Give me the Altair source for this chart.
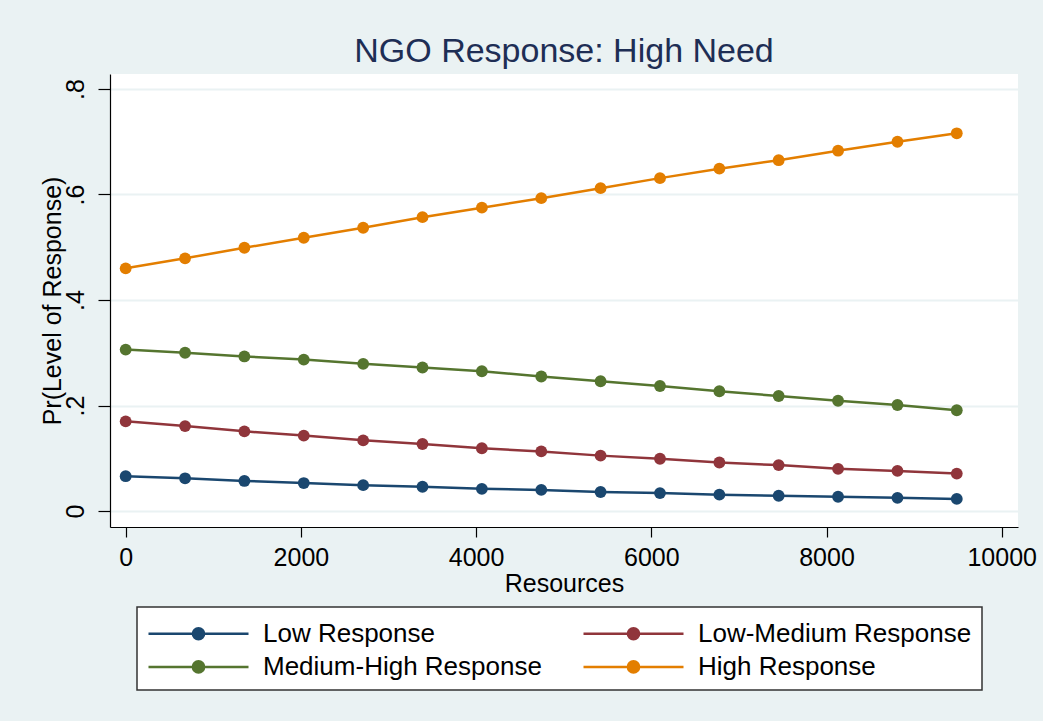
import altair as alt
import pandas as pd

FONT = "Liberation Sans"

# ---- data ----
resources = [0, 678, 1355, 2033, 2711, 3388, 4066, 4744, 5421, 6099, 6777, 7454, 8132, 8810, 9487]
low_response = [0.066, 0.062, 0.057, 0.053, 0.049, 0.046, 0.042, 0.040, 0.036, 0.034, 0.031, 0.029, 0.027, 0.025, 0.023]
low_medium_response = [0.170, 0.161, 0.151, 0.143, 0.134, 0.127, 0.119, 0.113, 0.105, 0.099, 0.092, 0.087, 0.080, 0.076, 0.071]
medium_high_response = [0.306, 0.300, 0.293, 0.287, 0.279, 0.272, 0.265, 0.255, 0.246, 0.237, 0.227, 0.218, 0.209, 0.201, 0.191]
high_response = [0.460, 0.479, 0.499, 0.518, 0.537, 0.557, 0.575, 0.593, 0.612, 0.631, 0.649, 0.665, 0.683, 0.700, 0.716]

series_names = ["Low Response", "Low-Medium Response", "Medium-High Response", "High Response"]
series_colors = ["#1A476F", "#90353B", "#55752F", "#E37E00"]
x_ticks = [0, 2000, 4000, 6000, 8000, 10000]
y_ticks = [0, 0.2, 0.4, 0.6, 0.8]

rows = []
for name, vals in zip(series_names, [low_response, low_medium_response, medium_high_response, high_response]):
    for r, v in zip(resources, vals):
        rows.append({"resources": r, "prob": v, "series": name})
df = pd.DataFrame(rows)

x = alt.X(
    "resources:Q",
    scale=alt.Scale(domain=[-179, 10186], nice=False, zero=False),
    axis=alt.Axis(
        values=x_ticks, title="Resources", grid=False, format="d",
        domainColor="black", domainWidth=1.2, tickColor="black", tickWidth=1.2, tickSize=10,
        labelFont=FONT, labelFontSize=25, labelColor="black", labelBaseline="alphabetic",
        labelPadding=28.5, labelOverlap=False,
        titleFont=FONT, titleFontSize=25, titleFontWeight="normal", titleColor="black",
        titleBaseline="alphabetic", titleY=64,
    ),
)
y = alt.Y(
    "prob:Q",
    scale=alt.Scale(domain=[-0.0303, 0.8284], nice=False, zero=False),
    axis=alt.Axis(
        values=y_ticks, title="Pr(Level of Response)",
        labelExpr="datum.value == 0 ? '0' : '.' + round(datum.value * 10)",
        grid=True, gridColor="#EAF2F3", gridWidth=2.2,
        domainColor="black", domainWidth=1.2, tickColor="black", tickWidth=1.2, tickSize=12,
        labelFont=FONT, labelFontSize=25, labelColor="black", labelAngle=270,
        labelAlign="center", labelBaseline="alphabetic", labelPadding=15, labelOverlap=False,
        titleFont=FONT, titleFontSize=25, titleFontWeight="normal", titleColor="black",
        titleAngle=270, titleAlign="center", titleBaseline="alphabetic", titleX=-50, titleY=226.5,
    ),
)

color_scale = alt.Scale(domain=series_names, range=series_colors)


def ring(cx, r):
    return (f"M{cx - r:.3f},0A{r:.3f},{r:.3f},0,1,0,{cx + r:.3f},0"
            f"A{r:.3f},{r:.3f},0,1,0,{cx - r:.3f},0")


# legend symbol: a 100px line with a solid dot in its middle (1 unit = 15px at size 900);
# the dot is built from concentric stroked rings so that only the stroke colour is needed
CX = 2.333
SYMBOL = "M-1,0H5.667" + ring(CX, 0.373) + ring(CX, 0.24) + ring(CX, 0.107)

legend = alt.Legend(
    title=None, orient="none", legendX=27, legendY=533, columns=2, direction="horizontal",
    symbolType=SYMBOL, symbolSize=900, symbolStrokeWidth=2.5, symbolOpacity=1,
    labelFont=FONT, labelFontSize=26, labelColor="black", labelOffset=83, labelLimit=0,
    rowPadding=3.4, columnPadding=36, padding=10,
    strokeColor="#333333", fillColor="white",
)

lines = alt.Chart(df).mark_line(strokeWidth=2.5).encode(
    x=x, y=y,
    color=alt.Color("series:N", scale=color_scale, legend=legend),
)
points = alt.Chart(df).mark_point(filled=True, size=140, strokeWidth=0, opacity=1).encode(
    x=x, y=y,
    fill=alt.Fill("series:N", scale=color_scale, legend=None),
)

chart = (
    alt.layer(lines, points)
    .properties(
        width=908, height=453,
        title=alt.TitleParams(
            "NGO Response: High Need", font=FONT, fontSize=34, fontWeight="normal",
            color="#1E2E55", anchor="middle", baseline="alphabetic", offset=-22,
        ),
        padding={"left": 110, "top": 74, "right": 25, "bottom": 194},
        autosize=alt.AutoSizeParams(type="none"),
    )
    .configure(background="#EAF2F3")
    .configure_view(fill="white", strokeWidth=0)
    .configure_legend(strokeWidth=1.5)
)

chart.save("out.html", embed_options={"renderer": "svg", "actions": False})
